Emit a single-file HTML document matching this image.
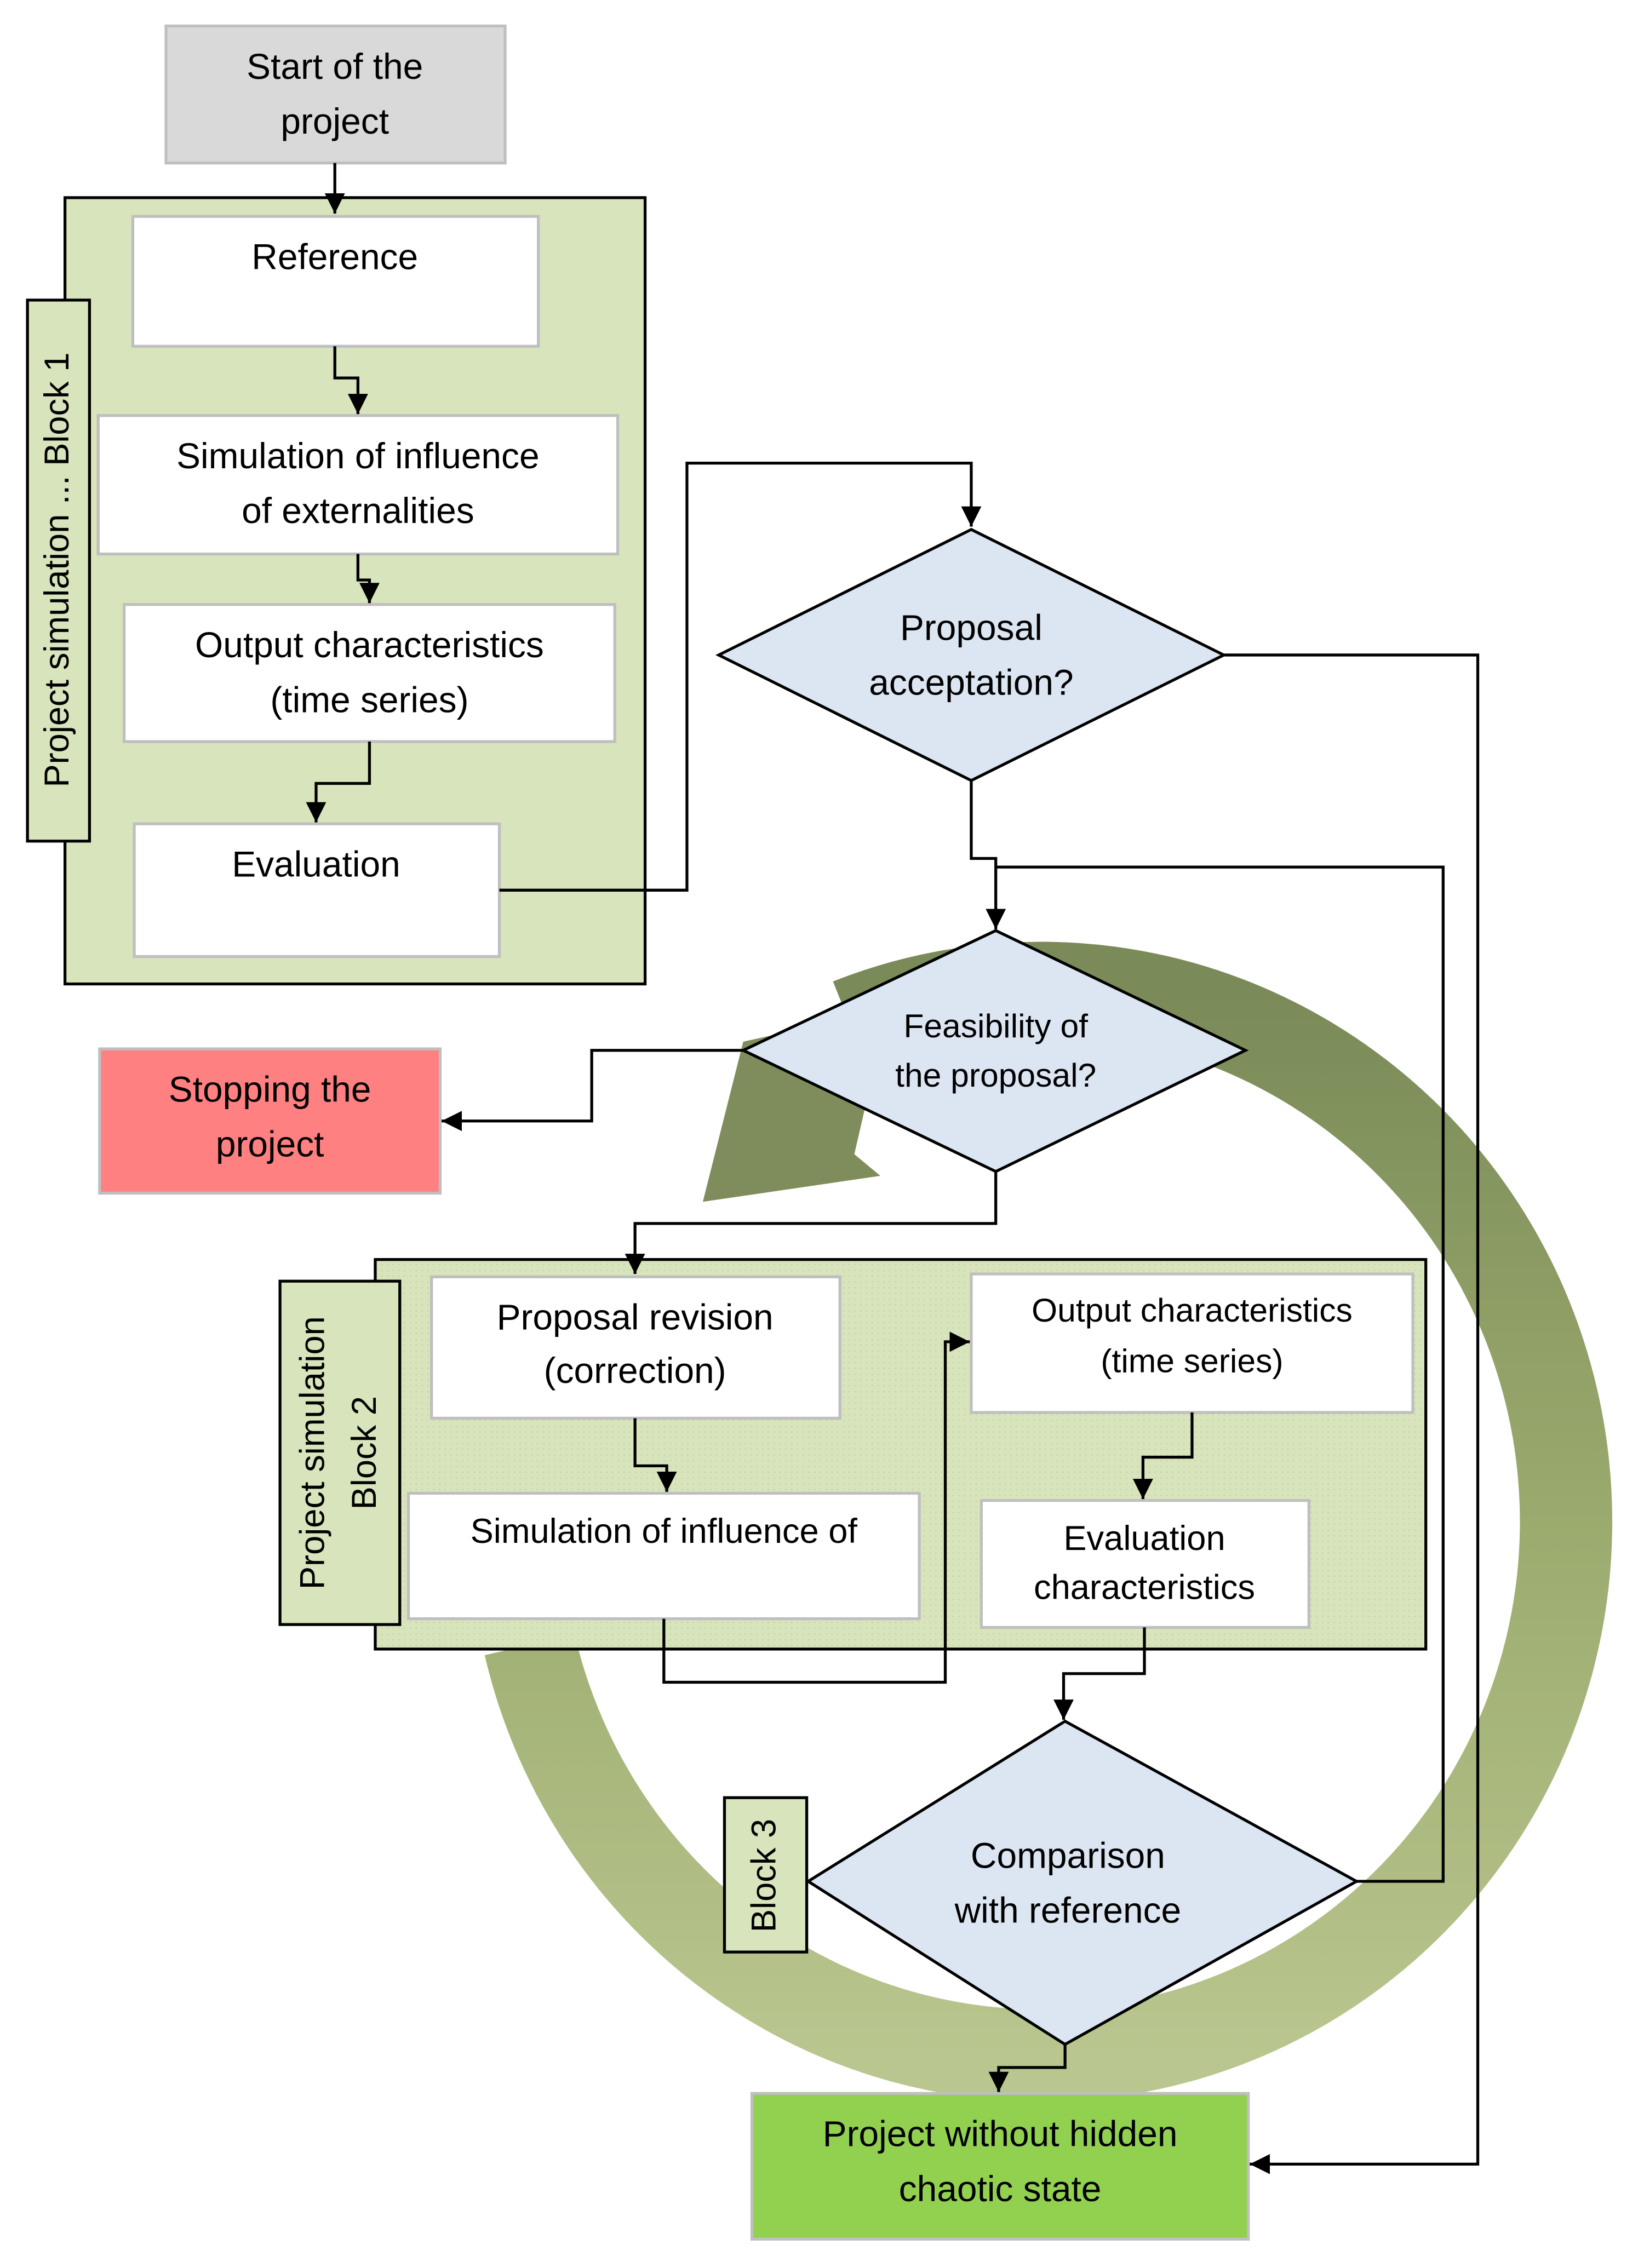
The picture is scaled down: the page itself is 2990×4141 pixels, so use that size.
<!DOCTYPE html>
<html><head><meta charset="utf-8"><style>html,body{margin:0;padding:0;background:#fff}svg{display:block}</style></head><body>
<svg width="2990" height="4141" viewBox="0 0 1135 1572" xmlns="http://www.w3.org/2000/svg" font-family="Liberation Sans, sans-serif">
<defs>
<linearGradient id="g" x1="0" y1="0" x2="0" y2="1">
<stop offset="0" stop-color="#7a8a58"/><stop offset="0.5" stop-color="#9bab6e"/><stop offset="1" stop-color="#b9c68f"/>
</linearGradient>
<marker id="b" viewBox="0 0 10 10" refX="10" refY="5" markerWidth="14" markerHeight="14" orient="auto" markerUnits="userSpaceOnUse"><path d="M0,0L10,5L0,10z" fill="#000"/></marker>
<pattern id="dots" width="4" height="4" patternUnits="userSpaceOnUse"><rect width="4" height="4" fill="#d8e4bc"/><rect width="1" height="1" fill="#c8d6a6"/></pattern>
</defs>
<rect width="1135" height="1572" fill="#fff"/>
<path d="M363,1140 A364,370 0 1 0 585,710" fill="none" stroke="url(#g)" stroke-width="64" transform="translate(4,0)"/>
<polygon points="515,722 615,700 592,800 610,815 487,833" fill="#7f8d5c"/>
<g font-size="25" text-anchor="middle" dominant-baseline="middle" fill="#000">
<rect x="115" y="18" width="235" height="95" fill="#d9d9d9" stroke="#bfbfbf" stroke-width="2"/>
<text x="232" y="48">Start of the</text><text x="232" y="86">project</text>
<rect x="45" y="137" width="402" height="545" fill="#d8e4bc" stroke="#000" stroke-width="2"/>
<rect x="19" y="208" width="43" height="375" fill="#d8e4bc" stroke="#000" stroke-width="2"/>
<text transform="translate(41,395) rotate(-90)" font-size="24">Project simulation ... Block 1</text>
<rect x="92" y="150" width="281" height="90" fill="#fff" stroke="#bfbfbf" stroke-width="2"/>
<text x="232" y="180">Reference</text>
<rect x="68" y="288" width="360" height="96" fill="#fff" stroke="#bfbfbf" stroke-width="2"/>
<text x="248" y="318">Simulation of influence</text><text x="248" y="356">of externalities</text>
<rect x="86" y="419" width="340" height="95" fill="#fff" stroke="#bfbfbf" stroke-width="2"/>
<text x="256" y="449">Output characteristics</text><text x="256" y="487">(time series)</text>
<rect x="93" y="571" width="253" height="92" fill="#fff" stroke="#bfbfbf" stroke-width="2"/>
<text x="219" y="601">Evaluation</text>
<rect x="260" y="873" width="728" height="270" fill="url(#dots)" stroke="#000" stroke-width="2"/>
<rect x="194" y="888" width="83" height="238" fill="#d8e4bc" stroke="#000" stroke-width="2"/>
<text transform="translate(235,1007) rotate(-90)" font-size="24"><tspan x="0" y="-17">Project simulation</tspan><tspan x="0" y="19">Block 2</tspan></text>
<rect x="299" y="885" width="283" height="98" fill="#fff" stroke="#bfbfbf" stroke-width="2"/>
<text x="440" y="915">Proposal revision</text><text x="440" y="952">(correction)</text>
<rect x="673" y="883" width="306" height="96" fill="#fff" stroke="#bfbfbf" stroke-width="2"/>
<text x="826" y="910" font-size="23">Output characteristics</text><text x="826" y="945" font-size="23">(time series)</text>
<rect x="283" y="1035" width="354" height="87" fill="#fff" stroke="#bfbfbf" stroke-width="2"/>
<text x="460" y="1063" font-size="24">Simulation of influence of</text>
<rect x="680" y="1040" width="227" height="88" fill="#fff" stroke="#bfbfbf" stroke-width="2"/>
<text x="793" y="1068" font-size="24">Evaluation</text><text x="793" y="1102" font-size="24">characteristics</text>
<polygon points="673,367 848,454 673,541 498,454" fill="#dce6f2" stroke="#000" stroke-width="2"/>
<text x="673" y="437">Proposal</text><text x="673" y="475">acceptation?</text>
<polygon points="690,645 863,728 690,812 515,728" fill="#dce6f2" stroke="#000" stroke-width="2"/>
<text x="690" y="713" font-size="23">Feasibility of</text><text x="690" y="747" font-size="23">the proposal?</text>
<polygon points="738,1193 940,1304 738,1417 560,1304" fill="#dce6f2" stroke="#000" stroke-width="2"/>
<text x="740" y="1288">Comparison</text><text x="740" y="1326">with reference</text>
<rect x="502" y="1246" width="57" height="107" fill="#d8e4bc" stroke="#000" stroke-width="2"/>
<text transform="translate(531,1300) rotate(-90)" font-size="24">Block 3</text>
<rect x="69" y="727" width="236" height="100" fill="#ff8080" stroke="#bfbfbf" stroke-width="2"/>
<text x="187" y="757">Stopping the</text><text x="187" y="795">project</text>
<rect x="521" y="1451" width="344" height="101" fill="#92d050" stroke="#bfbfbf" stroke-width="2"/>
<text x="693" y="1481">Project without hidden</text><text x="693" y="1519">chaotic state</text>
</g>
<g fill="none" stroke="#000" stroke-width="2">
<path d="M232,113V148" marker-end="url(#b)"/>
<path d="M232,240V262H248V287" marker-end="url(#b)"/>
<path d="M248,384V402H256V418" marker-end="url(#b)"/>
<path d="M256,514V543H219V570" marker-end="url(#b)"/>
<path d="M346,617H476V321H673V365" marker-end="url(#b)"/>
<path d="M848,454H1024V1500H866" marker-end="url(#b)"/>
<path d="M673,541V595H690V644" marker-end="url(#b)"/>
<path d="M940,1304H1000V601H690"/>
<path d="M515,728H410V777H306" marker-end="url(#b)"/>
<path d="M690,812V848H440V883" marker-end="url(#b)"/>
<path d="M440,983V1016H462V1034" marker-end="url(#b)"/>
<path d="M460,1122V1166H655V930H672" marker-end="url(#b)"/>
<path d="M826,979V1010H792V1039" marker-end="url(#b)"/>
<path d="M793,1128V1160H737V1192" marker-end="url(#b)"/>
<path d="M738,1417V1433H692V1450" marker-end="url(#b)"/>
</g>
</svg>
</body></html>
